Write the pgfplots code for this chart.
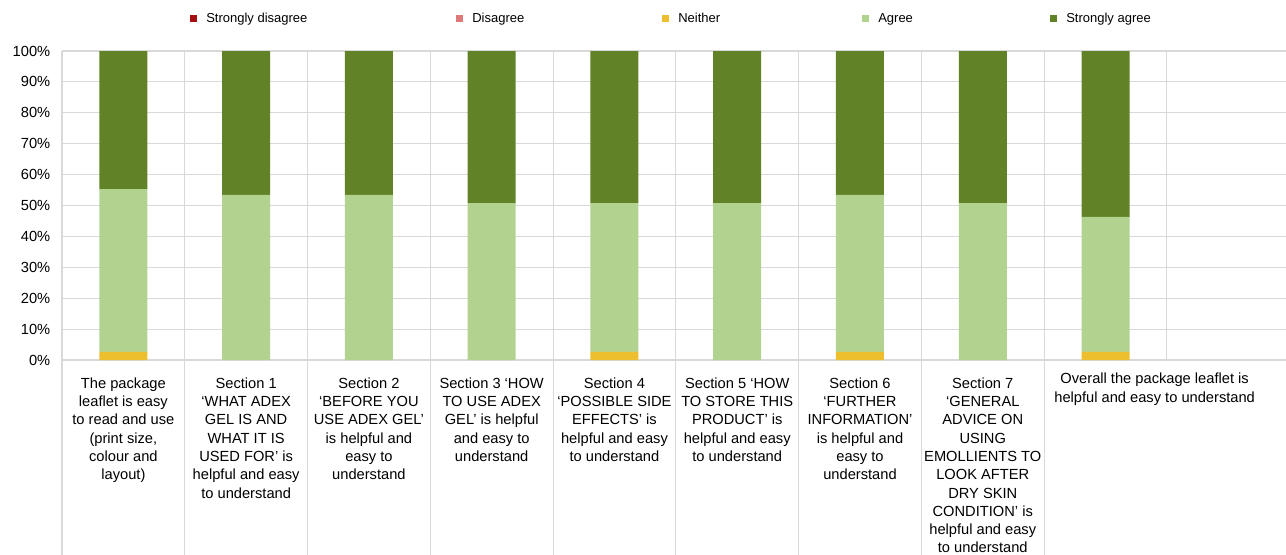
\documentclass[border=0pt]{standalone}
\usepackage{fontspec}
\setmainfont{Liberation Sans}
\usepackage{pgfplots}
\pgfplotsset{compat=1.18}

\definecolor{sdis}{HTML}{A50F0F}
\definecolor{dis}{HTML}{DE7A7A}
\definecolor{neith}{HTML}{EDBE2E}
\definecolor{agr}{HTML}{B2D28F}
\definecolor{sagr}{HTML}{628227}
\definecolor{gridc}{HTML}{D9D9D9}

\begin{document}
\begin{tikzpicture}
\useasboundingbox (-46.5pt,-145.5pt) rectangle (918pt,270pt);
\begin{axis}[
    at={(0,0)}, anchor=south west,
    width=918pt, height=231.75pt, scale only axis,
    ybar stacked, bar width=36pt,
    xmin=-0.5, xmax=9.47, ymin=0, ymax=100,
    clip=false,
    axis line style={draw=none},
    ytick={0,10,...,100},
    yticklabel={\pgfmathprintnumber{\tick}\%},
    /pgf/number format/assume math mode=true,
    yticklabel style={font=\fontsize{11}{13}\selectfont, xshift=-5.3pt},
    ytick style={draw=none},
    ymajorgrids=true,
    grid style={color=gridc, line width=0.8pt},
    minor grid style={color=gridc, line width=0.8pt},
    minor xtick={-0.5,0.5,...,9.5},
    xminorgrids=true,
    minor tick style={draw=none},
    xtick={0,...,7},
    xtick style={draw=none},
    xticklabels={
        {The package\\leaflet is easy\\to read and use\\(print size,\\colour and\\layout)},
        {Section 1\\‘WHAT ADEX\\GEL IS AND\\WHAT IT IS\\USED FOR’ is\\helpful and easy\\to understand},
        {Section 2\\‘BEFORE YOU\\USE ADEX GEL’\\is helpful and\\easy to\\understand},
        {Section 3 ‘HOW\\TO USE ADEX\\GEL’ is helpful\\and easy to\\understand},
        {Section 4\\‘POSSIBLE SIDE\\EFFECTS’ is\\helpful and easy\\to understand},
        {Section 5 ‘HOW\\TO STORE THIS\\PRODUCT’ is\\helpful and easy\\to understand},
        {Section 6\\‘FURTHER\\INFORMATION’\\is helpful and\\easy to\\understand},
        {Section 7\\‘GENERAL\\ADVICE ON\\USING\\EMOLLIENTS TO\\LOOK AFTER\\DRY SKIN\\CONDITION’ is\\helpful and easy\\to understand}},
    xticklabel style={font=\fontsize{11}{13.7}\selectfont, align=center, anchor=north, yshift=-9.8pt},
    extra x ticks={8.40},
    extra x tick labels={{Overall the package leaflet is\\helpful and easy to understand}},
    extra x tick style={grid=none, tick style={draw=none},
        xticklabel style={yshift=3.5pt}},
    legend columns=5,
    legend image code/.code={\fill[#1] (0pt,-2.6pt) rectangle (5.25pt,2.6pt);},
    legend style={
        at={(0.1046,1.104)}, anchor=west,
        draw=none, inner sep=0pt,
        font=\fontsize{9.75}{11}\selectfont,
        nodes={inner sep=0pt},
        /tikz/every odd column/.append style={column sep=6.75pt},
        /tikz/every even column/.append style={column sep=0pt},
    },
]
\addplot[fill=sdis, draw=none] coordinates {(0,0) (1,0) (2,0) (3,0) (4,0) (5,0) (6,0) (7,0) (8,0)};
\addplot[fill=dis, draw=none] coordinates {(0,0) (1,0) (2,0) (3,0) (4,0) (5,0) (6,0) (7,0) (8,0)};
\addplot[fill=neith, draw=none] coordinates {(0,2.6) (1,0) (2,0) (3,0) (4,2.6) (5,0) (6,2.6) (7,0) (8,2.6)};
\addplot[fill=agr, draw=none] coordinates {(0,52.7) (1,53.4) (2,53.4) (3,50.8) (4,48.2) (5,50.8) (6,50.8) (7,50.8) (8,43.7)};
\addplot[fill=sagr, draw=none] coordinates {(0,44.7) (1,46.6) (2,46.6) (3,49.2) (4,49.2) (5,49.2) (6,46.6) (7,49.2) (8,53.7)};
\addlegendentry{\makebox[187.5pt][l]{Strongly disagree}}
\addlegendentry{\makebox[142.5pt][l]{Disagree}}
\addlegendentry{\makebox[138pt][l]{Neither}}
\addlegendentry{\makebox[129pt][l]{Agree}}
\addlegendentry{Strongly agree}
\pgfplotsinvokeforeach{-0.5,0.5,1.5,2.5,3.5,4.5,5.5,6.5,7.5}{
    \draw[gridc, line width=0.8pt] (axis cs:#1,0) -- ++(0pt,-150pt);
}
\end{axis}
\end{tikzpicture}
\end{document}
